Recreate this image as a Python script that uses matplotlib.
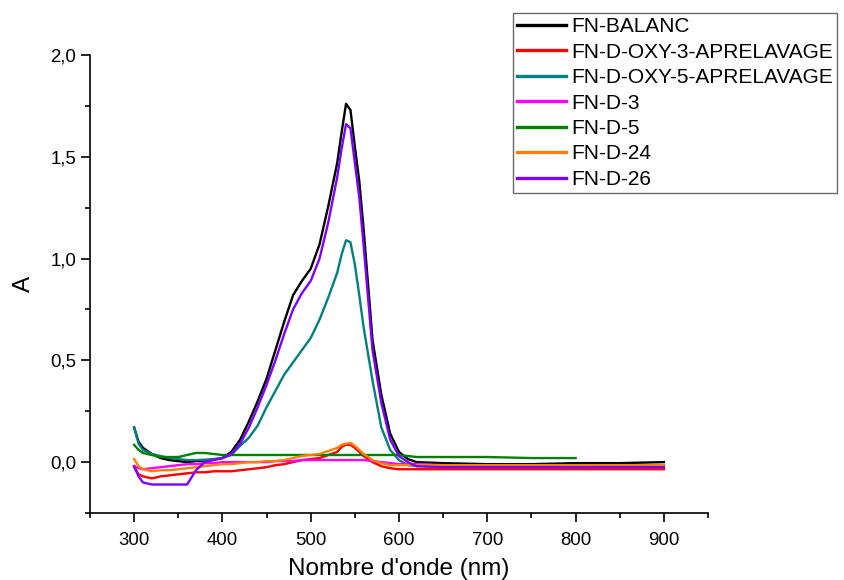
import numpy as np
import matplotlib
matplotlib.use('Agg')
import matplotlib.pyplot as plt
from matplotlib.ticker import MultipleLocator, FuncFormatter

plt.rcParams['font.family'] = ['Liberation Sans', 'DejaVu Sans']

# wavelengths (nm)
wl = [300, 305, 310, 320, 330, 340, 350, 360, 370, 380, 390, 400, 410, 420, 430,
      440, 450, 460, 470, 480, 490, 500, 510, 520, 530, 535, 540, 545, 550, 555,
      560, 570, 580, 590, 600, 610, 620, 650, 700, 750, 800, 850, 900]

balanc = [0.17, 0.10, 0.07, 0.04, 0.02, 0.01, 0.005, 0.0, 0.005, 0.008, 0.012, 0.02, 0.05, 0.11, 0.20,
          0.30, 0.41, 0.55, 0.69, 0.82, 0.89, 0.95, 1.07, 1.26, 1.47, 1.62, 1.76, 1.73, 1.55, 1.38,
          1.14, 0.60, 0.33, 0.14, 0.05, 0.015, 0.0, -0.005, -0.01, -0.01, -0.005, -0.005, 0.0]

oxy3 = [-0.025, -0.06, -0.07, -0.08, -0.07, -0.065, -0.06, -0.055, -0.05, -0.05, -0.045, -0.045, -0.045, -0.04, -0.035,
        -0.03, -0.025, -0.015, -0.01, 0.0, 0.01, 0.015, 0.02, 0.035, 0.05, 0.075, 0.085, 0.085, 0.07, 0.05,
        0.03, 0.0, -0.02, -0.03, -0.035, -0.035, -0.035, -0.035, -0.035, -0.035, -0.035, -0.035, -0.035]

oxy5 = [0.17, 0.09, 0.06, 0.04, 0.03, 0.02, 0.015, 0.01, 0.01, 0.012, 0.015, 0.02, 0.035, 0.08, 0.12,
        0.18, 0.27, 0.35, 0.43, 0.49, 0.55, 0.61, 0.70, 0.81, 0.93, 1.02, 1.09, 1.08, 0.97, 0.82,
        0.66, 0.40, 0.17, 0.06, 0.01, -0.015, -0.02, -0.02, -0.02, -0.02, -0.025, -0.02, -0.02]

d3 = [-0.02, -0.03, -0.035, -0.03, -0.025, -0.02, -0.015, -0.01, -0.01, -0.005, -0.005, 0.0, 0.0, 0.0, 0.0,
      0.0, 0.0, 0.005, 0.005, 0.005, 0.01, 0.01, 0.01, 0.01, 0.01, 0.01, 0.01, 0.01, 0.01, 0.01,
      0.01, 0.005, 0.0, -0.005, -0.01, -0.01, -0.01, -0.015, -0.015, -0.015, -0.015, -0.015, -0.015]

d5 = [0.085, 0.06, 0.045, 0.035, 0.025, 0.025, 0.025, 0.035, 0.045, 0.045, 0.04, 0.035, 0.035, 0.035, 0.035,
      0.035, 0.035, 0.035, 0.035, 0.035, 0.035, 0.035, 0.035, 0.035, 0.035, 0.035, 0.035, 0.035, 0.035, 0.035,
      0.035, 0.035, 0.035, 0.035, 0.035, 0.03, 0.025, 0.025, 0.025, 0.02, 0.02, np.nan, np.nan]

d24 = [0.015, -0.02, -0.035, -0.045, -0.04, -0.04, -0.035, -0.03, -0.025, -0.02, -0.015, -0.01, -0.01, -0.005, 0.0,
       0.0, 0.005, 0.005, 0.01, 0.02, 0.03, 0.035, 0.04, 0.055, 0.07, 0.085, 0.09, 0.094, 0.08, 0.06,
       0.04, 0.01, -0.005, -0.015, -0.015, -0.015, -0.015, -0.015, -0.015, -0.015, -0.015, -0.015, -0.015]

d26 = [-0.02, -0.07, -0.10, -0.11, -0.11, -0.11, -0.11, -0.11, -0.04, 0.0, 0.01, 0.02, 0.04, 0.09, 0.17,
       0.27, 0.38, 0.50, 0.63, 0.75, 0.83, 0.89, 1.00, 1.18, 1.40, 1.54, 1.66, 1.64, 1.47, 1.30,
       1.06, 0.55, 0.29, 0.11, 0.03, 0.0, -0.02, -0.025, -0.025, -0.025, -0.025, -0.025, -0.025]

series = [
    ('FN-BALANC', balanc, 'black'),
    ('FN-D-OXY-3-APRELAVAGE', oxy3, '#ff0000'),
    ('FN-D-OXY-5-APRELAVAGE', oxy5, '#008080'),
    ('FN-D-3', d3, '#ff00ff'),
    ('FN-D-5', d5, '#008000'),
    ('FN-D-24', d24, '#ff8000'),
    ('FN-D-26', d26, '#8000ff'),
]

fig = plt.figure(figsize=(8.45, 5.8), dpi=100)
ax = fig.add_axes([0.1065, 0.1155, 0.7314, 0.7897])

for name, vals, col in series:
    ax.plot(wl, vals, color=col, lw=1.7, label=name)

ax.set_xlim(250, 950)
ax.set_ylim(-0.25, 2.0)
ax.set_xticks([300, 400, 500, 600, 700, 800, 900])
ax.set_yticks([0.0, 0.5, 1.0, 1.5, 2.0])
ax.xaxis.set_minor_locator(MultipleLocator(50))
ax.yaxis.set_minor_locator(MultipleLocator(0.25))
ax.yaxis.set_major_formatter(FuncFormatter(lambda v, p: f'{v:.1f}'.replace('.', ',')))

for s in ['top', 'right']:
    ax.spines[s].set_visible(False)
for s in ['left', 'bottom']:
    ax.spines[s].set_linewidth(1.2)

ax.tick_params(which='major', direction='out', length=6.5, width=1.2, labelsize=13.4)
ax.tick_params(axis='x', which='major', pad=7)
ax.tick_params(which='minor', direction='out', length=3.5, width=1.2)

ax.set_xlabel("Nombre d'onde (nm)", fontsize=17.5, labelpad=7)
ax.set_ylabel('A', fontsize=17.5, labelpad=11)

leg = fig.legend(loc='upper left', bbox_to_anchor=(513 / 845, 1 - 13 / 580),
                 fontsize=15, frameon=True, fancybox=False, borderaxespad=0,
                 handlelength=2.35, handletextpad=0.25, labelspacing=0.31,
                 borderpad=0.2)
leg.get_frame().set_edgecolor('#444444')
leg.get_frame().set_linewidth(1.0)
for line in leg.get_lines():
    line.set_linewidth(2.4)

fig.savefig('out.png', dpi=100)
